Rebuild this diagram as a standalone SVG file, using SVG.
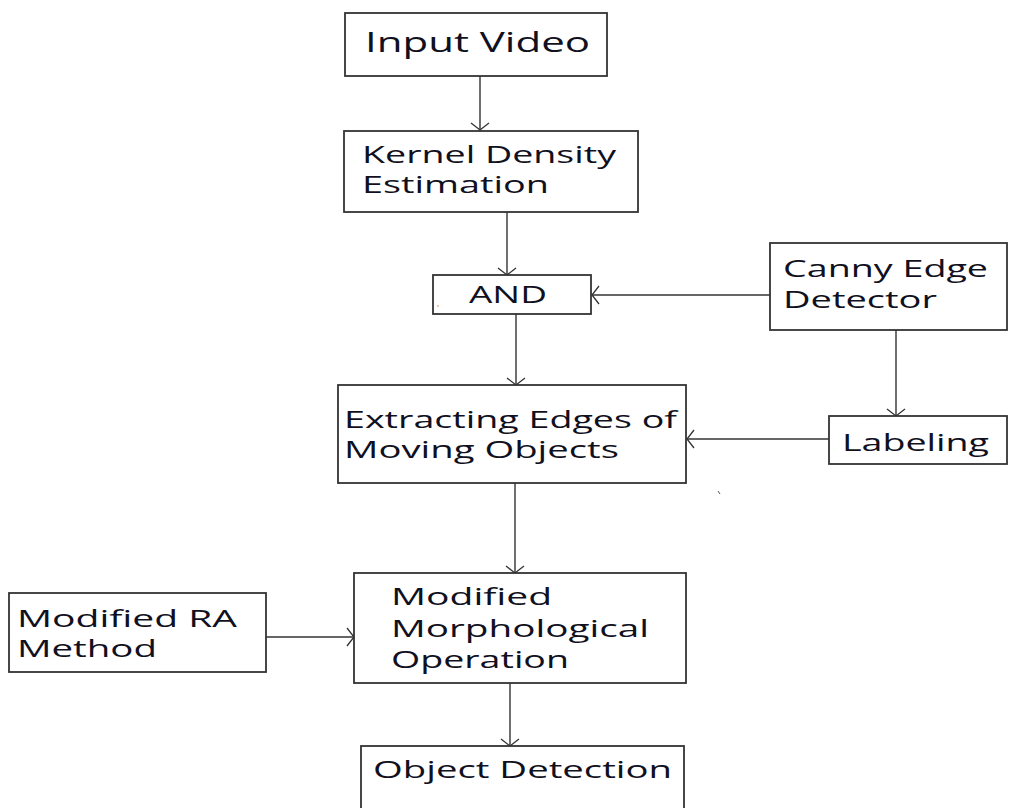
<svg xmlns="http://www.w3.org/2000/svg" width="1009" height="808" viewBox="0 0 1009 808">
<style>
.box{fill:#fff;stroke:#333;stroke-width:1.8}
.t{font-family:"Open Sans","Noto Sans","Liberation Sans",sans-serif;font-size:23px;fill:#101020}
.big{font-size:27px}
.c{fill:none;stroke:#333;stroke-width:1.4}
</style>
<defs>
<marker id="ah" markerUnits="userSpaceOnUse" markerWidth="20" markerHeight="20" viewBox="-10 -10 20 20" refX="0" refY="0" orient="auto">
<path d="M-7,-9 L0,0 L-7,9" fill="none" stroke="#333" stroke-width="1.3"/>
</marker>
</defs>
<rect width="1009" height="808" fill="#fff"/>
<g id="connectors">
<line class="c" x1="480" y1="76" x2="480" y2="130" marker-end="url(#ah)"/>
<line class="c" x1="507" y1="212" x2="507" y2="275" marker-end="url(#ah)"/>
<line class="c" x1="770" y1="295" x2="592" y2="295" marker-end="url(#ah)"/>
<line class="c" x1="516" y1="314" x2="516" y2="385" marker-end="url(#ah)"/>
<line class="c" x1="896" y1="330" x2="896" y2="416" marker-end="url(#ah)"/>
<line class="c" x1="829" y1="439" x2="687" y2="439" marker-end="url(#ah)"/>
<line class="c" x1="515" y1="483" x2="515" y2="573" marker-end="url(#ah)"/>
<line class="c" x1="266" y1="637" x2="354" y2="637" marker-end="url(#ah)"/>
<line class="c" x1="510" y1="683" x2="510" y2="746" marker-end="url(#ah)"/>
</g>
<g id="input-video">
<rect class="box" x="345" y="13" width="262" height="63"/>
<text class="t big" x="365" y="52" textLength="225" lengthAdjust="spacingAndGlyphs">Input Video</text>
</g>
<g id="kde">
<rect class="box" x="344" y="131" width="294" height="81"/>
<text class="t" x="362" y="163" textLength="254" lengthAdjust="spacingAndGlyphs">Kernel Density</text>
<text class="t" x="362" y="193" textLength="187" lengthAdjust="spacingAndGlyphs">Estimation</text>
</g>
<g id="and">
<rect class="box" x="433" y="275" width="158" height="39"/>
<text class="t" x="469" y="303" textLength="78" lengthAdjust="spacingAndGlyphs">AND</text>
<circle cx="438" cy="306" r="0.8" fill="#e08020"/>
</g>
<g id="canny">
<rect class="box" x="770" y="243" width="237" height="87"/>
<text class="t" x="783" y="277" textLength="205" lengthAdjust="spacingAndGlyphs">Canny Edge</text>
<text class="t" x="783" y="308" textLength="154" lengthAdjust="spacingAndGlyphs">Detector</text>
</g>
<g id="labeling">
<rect class="box" x="829" y="416" width="178" height="48"/>
<text class="t" x="842" y="451" textLength="147" lengthAdjust="spacingAndGlyphs">Labeling</text>
</g>
<g id="extracting">
<rect class="box" x="338" y="385" width="348" height="98"/>
<text class="t" x="344" y="428" textLength="333" lengthAdjust="spacingAndGlyphs">Extracting Edges of</text>
<text class="t" x="344" y="458" textLength="275" lengthAdjust="spacingAndGlyphs">Moving Objects</text>
</g>
<line x1="718" y1="491" x2="720" y2="494" stroke="#555" stroke-width="1"/>
<g id="modified-ra">
<rect class="box" x="9" y="593" width="257" height="79"/>
<text class="t" x="17" y="627" textLength="220" lengthAdjust="spacingAndGlyphs">Modified RA</text>
<text class="t" x="17" y="657" textLength="140" lengthAdjust="spacingAndGlyphs">Method</text>
</g>
<g id="morph">
<rect class="box" x="354" y="573" width="332" height="110"/>
<text class="t" x="391" y="605" textLength="161" lengthAdjust="spacingAndGlyphs">Modified</text>
<text class="t" x="391" y="637" textLength="258" lengthAdjust="spacingAndGlyphs">Morphological</text>
<text class="t" x="391" y="668" textLength="178" lengthAdjust="spacingAndGlyphs">Operation</text>
</g>
<g id="object-detection">
<rect class="box" x="361" y="746" width="323" height="70"/>
<text class="t" x="373" y="778" textLength="299" lengthAdjust="spacingAndGlyphs">Object Detection</text>
</g>
</svg>
